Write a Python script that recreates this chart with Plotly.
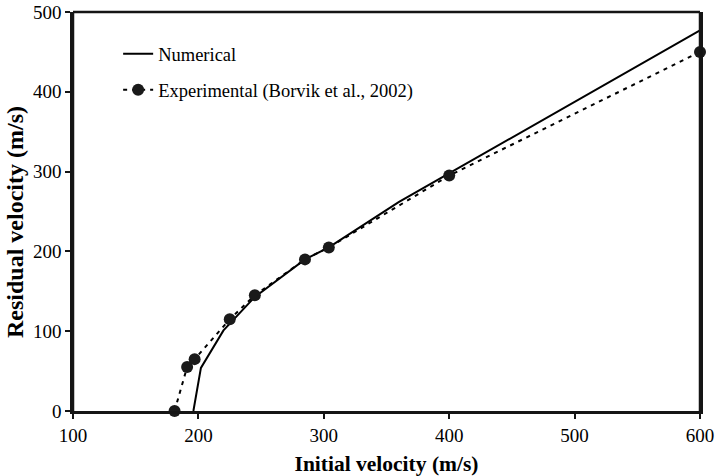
import plotly.graph_objects as go

# Data
num_x = [196, 202, 220, 245, 285, 304, 360, 400, 600]
num_y = [0, 54, 101, 143, 190, 205, 262, 298, 477]

exp_x = [181, 191, 197, 225, 245, 285, 304, 400, 600]
exp_y = [0, 55, 65, 115, 145, 190, 205, 295, 450]

x_ticks = [100, 200, 300, 400, 500, 600]
y_ticks = [0, 100, 200, 300, 400, 500]

FONT = "Liberation Serif"
AX = "#151515"

fig = go.Figure()
fig.add_trace(go.Scatter(
    x=num_x, y=num_y, mode="lines", name="Numerical",
    line=dict(color="black", width=2), legendgroup="a", cliponaxis=False,
))
fig.add_trace(go.Scatter(
    x=exp_x, y=exp_y, mode="lines+markers",
    name="Experimental (Borvik et al., 2002)",
    line=dict(color="black", width=2, dash="4px,5px"),
    marker=dict(color="#1a1a1a", size=12, symbol="circle"),
    legendgroup="b", cliponaxis=False,
))

frame = dict(type="line", xref="paper", yref="paper", layer="above",
             line=dict(color=AX, width=2.5))

fig.update_layout(
    width=716, height=476,
    margin=dict(l=73, r=16, t=12, b=65, autoexpand=False),
    paper_bgcolor="white", plot_bgcolor="white",
    font=dict(family=FONT, size=19, color="black"),
    showlegend=True,
    legend=dict(
        x=0.072, y=0.942, xanchor="left", yanchor="top",
        font=dict(family=FONT, size=18.5, color="black"),
        bgcolor="rgba(0,0,0,0)", traceorder="grouped", tracegroupgap=9,
        itemwidth=30,
    ),
    xaxis=dict(
        range=[100, 600], tickvals=x_ticks, ticktext=[str(v) for v in x_ticks],
        showgrid=False, zeroline=False, showline=True, linecolor=AX,
        linewidth=3, ticks="outside", ticklen=5, tickwidth=2, tickcolor=AX,
        automargin=False,
        title=dict(text="<b>Initial velocity (m/s)</b>", font=dict(family=FONT, size=21.5), standoff=12),
        tickfont=dict(family=FONT, size=19),
    ),
    yaxis=dict(
        range=[0, 500], tickvals=y_ticks, ticktext=[str(v) for v in y_ticks],
        showgrid=False, zeroline=False, showline=True, linecolor=AX,
        linewidth=2.5, mirror=True, ticks="outside", ticklen=5, tickwidth=2, tickcolor=AX,
        automargin=False,
        tickfont=dict(family=FONT, size=19),
    ),
    annotations=[dict(
        text="<b>Residual velocity (m/s)</b>", textangle=-90,
        xref="paper", yref="paper", x=(15 - 73) / 627, y=(411 - 222) / 399,
        xanchor="center", yanchor="middle", showarrow=False,
        font=dict(family=FONT, size=24, color="black"),
    )],
    shapes=[
        dict(frame, x0=0, x1=1, y0=1, y1=1),
        dict(frame, x0=0, x1=0, y0=0, y1=1),
        dict(frame, x0=1, x1=1, y0=0, y1=1),
    ],
)

fig.write_html("out.html")
